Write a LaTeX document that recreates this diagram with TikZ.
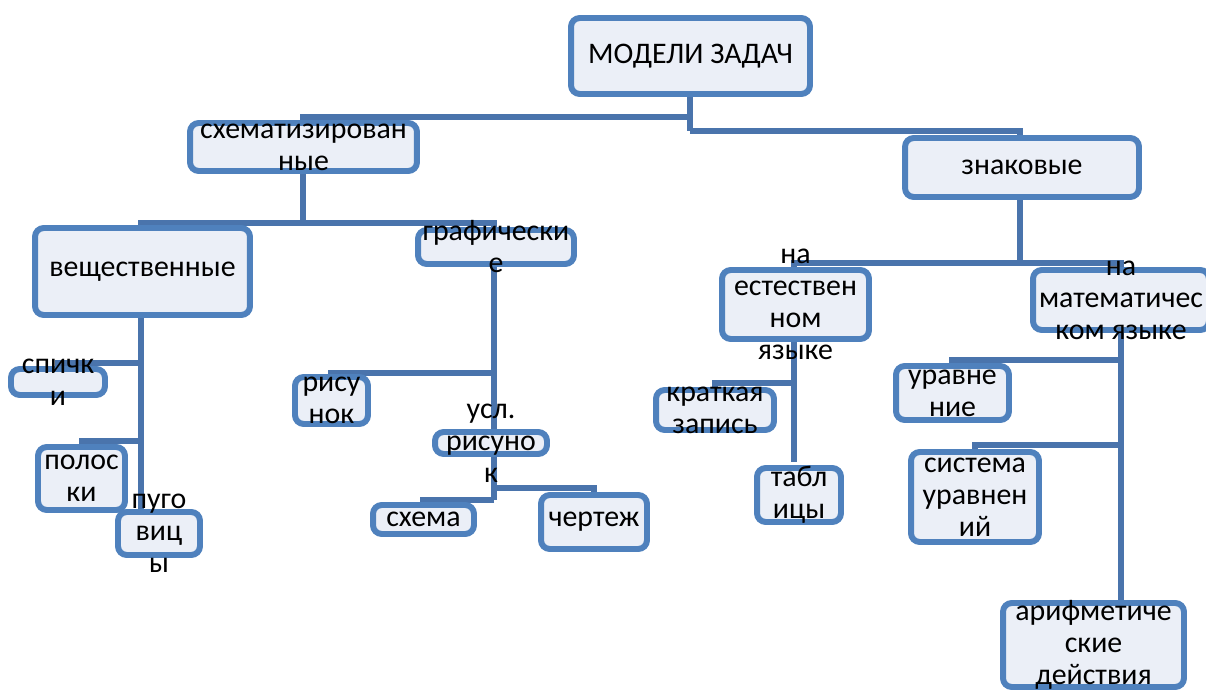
\documentclass[tikz,border=0pt]{standalone}
\usepackage{fontspec}
\setmainfont{Carlito}
\definecolor{boxline}{HTML}{4F81BD}
\definecolor{boxfill}{HTML}{EBEFF7}
\definecolor{linkcol}{HTML}{4A74AC}
\begin{document}
\begin{tikzpicture}[x=0.02cm,y=-0.02cm,
		box/.style={draw=boxline,fill=boxfill,line width=3.4pt,rounded corners=5pt,inner sep=0pt},
		txt/.style={align=center,font=\fontsize{17}{18.2}\selectfont,inner sep=0pt},
		link/.style={draw=linkcol,line width=3.4pt}]
					\useasboundingbox (0,0) rectangle (1206,692);
					%
					\coordinate (busA) at (690,117);
					\coordinate (busB) at (690,131);
					\coordinate (busC) at (303,223);
					\coordinate (busD) at (1020,263);
					\coordinate (jSp) at (141,363);
					\coordinate (jPo) at (141,441);
					\coordinate (jPu) at (141,512);
					\coordinate (jRi) at (494,373);
					\coordinate (jCh) at (494,488);
					\coordinate (jSk) at (494,500);
					\coordinate (jKr) at (794,383);
					\coordinate (jTa) at (794,462);
					\coordinate (jUr) at (1121,360);
					\coordinate (jSi) at (1121,445);
					\coordinate (jAr) at (1121,603);
					%
					\draw[link] (busA) -- (690,97) -- (busB);
					\draw[link] (busA) -| (303,126);
					\draw[link] (busB) -| (1020,140);
					\draw[link] (303,170) -- (busC);
					\draw[link] (141,230) |- (busC) -| (494,232);
					%
					\draw[link] (141,312) -- (jPu);
					\draw[link] (jSp) -| (58,370);
					\draw[link] (jPo) -| (82,448);
					%
					\draw[link] (494,262) -- (jSk);
					\draw[link] (jRi) -| (331,378);
					\draw[link] (jCh) -| (594,496);
					\draw[link] (jSk) -| (423,506);
					%
					\draw[link] (1020,196) -- (busD);
					\draw[link] (794,270) |- (busD) -| (1121,271);
					\draw[link] (794,338) -- (jTa);
					\draw[link] (jKr) -| (715,391);
					%
					\draw[link] (1121,330) -- (jAr);
					\draw[link] (jUr) -| (952,367);
					\draw[link] (jSi) -| (975,452);
					%
					\node[box,minimum width=4.78cm,minimum height=1.52cm,label={[txt]center:МОДЕЛИ ЗАДАЧ}] (models) at (690.5,56) {};
					\node[box,minimum width=4.54cm,minimum height=0.96cm,label={[txt]center:{схематизирован\\ные}}] (schem) at (303.5,147) {};
					\node[box,minimum width=4.68cm,minimum height=1.18cm,label={[txt]center:знаковые}] (znak) at (1022,167.5) {};
					%
					\node[box,minimum width=4.30cm,minimum height=1.74cm,label={[txt]center:вещественные}] (vesch) at (142.5,271.5) {};
					\node[box,minimum width=3.12cm,minimum height=0.68cm,label={[txt]center:{графически\\е}}] (graf) at (496,247) {};
					\node[box,minimum width=2.94cm,minimum height=1.38cm,label={[txt]center:{на\\естествен\\ном\\языке}}] (estest) at (795.5,304.5) {};
					\node[box,minimum width=3.52cm,minimum height=1.20cm,label={[txt]center:{на\\математичес\\ком языке}}] (matem) at (1121,300) {};
					%
					\node[box,minimum width=1.88cm,minimum height=0.52cm,label={[txt]center:{спичк\\и}}] (spichki) at (58,382) {};
					\node[box,minimum width=1.74cm,minimum height=1.26cm,label={[txt]center:{полос\\ки}}] (poloski) at (81.5,478.5) {};
					\node[box,minimum width=1.64cm,minimum height=0.86cm,label={[txt]center:{пуго\\виц\\ы}}] (pugovicy) at (159,533.5) {};
					%
					\node[box,minimum width=1.46cm,minimum height=0.94cm,label={[txt]center:{рису\\нок}}] (risunok) at (331.5,400.5) {};
					\node[box,minimum width=2.24cm,minimum height=0.44cm,label={[txt]center:{усл.\\рисуно\\к}}] (uslris) at (491,443) {};
					\node[box,minimum width=2.02cm,minimum height=0.58cm,label={[txt]center:схема}] (skhema) at (423.5,519.5) {};
					\node[box,minimum width=2.12cm,minimum height=1.08cm,label={[txt]center:чертеж}] (chertezh) at (594,522) {};
					%
					\node[box,minimum width=2.36cm,minimum height=0.80cm,label={[txt]center:{краткая\\запись}}] (kratk) at (715,410) {};
					\node[box,minimum width=1.68cm,minimum height=1.08cm,label={[txt]center:{табл\\ицы}}] (tabl) at (799,495) {};
					%
					\node[box,minimum width=2.26cm,minimum height=1.08cm,label={[txt]center:{уравне\\ние}}] (uravn) at (952.5,393) {};
					\node[box,minimum width=2.56cm,minimum height=1.80cm,label={[txt]center:{система\\уравнен\\ий}}] (sistema) at (975,497) {};
					\node[box,minimum width=3.62cm,minimum height=1.68cm,label={[txt]center:{арифметиче\\ские\\действия}}] (arifm) at (1093.5,645) {};
				\end{tikzpicture}
\end{document}
